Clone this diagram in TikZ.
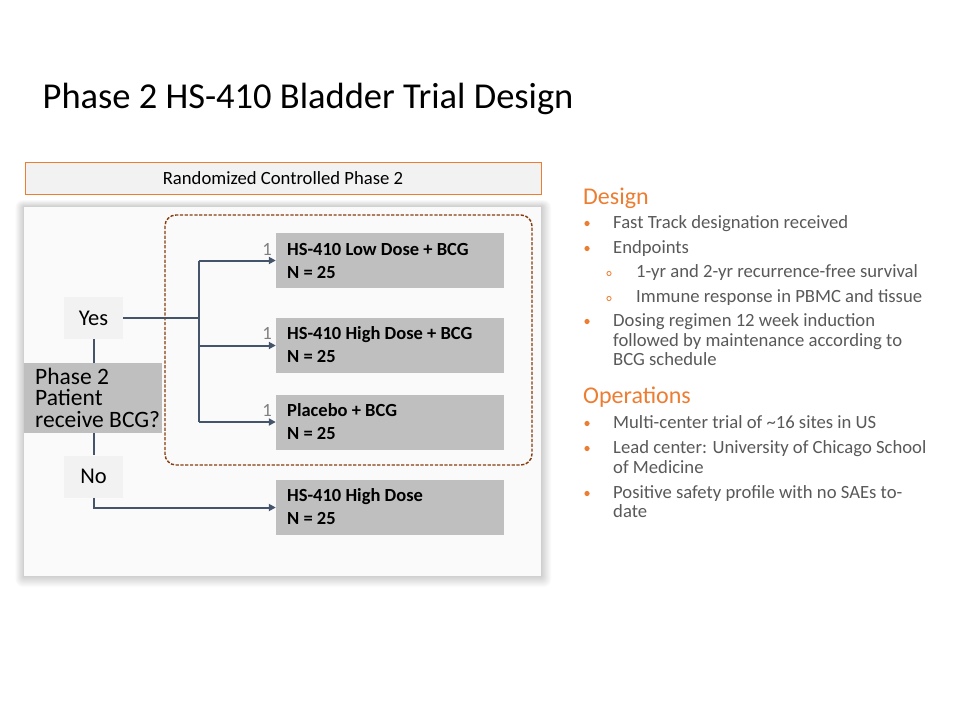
\documentclass[tikz,border=0pt]{standalone}
\usepackage{fontspec}
\setmainfont{Carlito}
\usetikzlibrary{arrows.meta}
\definecolor{accent}{HTML}{ED7D31}
\definecolor{dashbrown}{HTML}{843C0C}
\definecolor{conncol}{HTML}{44546A}
\definecolor{boxgray}{HTML}{BFBFBF}
\definecolor{lightgray}{HTML}{F2F2F2}
\definecolor{panelcol}{HTML}{FAFAFA}
\definecolor{bodytext}{HTML}{595959}
\definecolor{numgray}{HTML}{7F7F7F}
\newcommand\myfs[2]{\fontsize{#1}{#2}\selectfont}
\begin{document}
\begin{tikzpicture}[x=1pt,y=-1pt,
  gbox/.style={fill=boxgray, draw=none, minimum width=228pt, minimum height=55pt, inner sep=0pt},
  boxtext/.style={anchor=base west, inner sep=0pt, align=left, font=\myfs{18.5}{23}\bfseries, text=black},
  ynbox/.style={fill=lightgray, draw=none, minimum width=59pt, minimum height=42pt, inner sep=0pt, font=\myfs{22.5}{25}, text=black},
  onelabel/.style={anchor=base east, inner sep=0pt, font=\myfs{18.67}{22}, text=numgray},
  conn/.style={draw=conncol, line width=2pt},
  arr/.style={conn, -{Triangle[length=7pt,width=7pt]}},
  bullettext/.style={anchor=base west, inner sep=0pt, font=\myfs{18.67}{22}, text=bodytext},
  heading/.style={anchor=base west, inner sep=0pt, font=\myfs{24}{28}, text=accent},
  bdot/.style={fill=accent},
  sdot/.style={draw=accent, line width=0.8pt}
]
\useasboundingbox (0,0) rectangle (960,720);
\fill[white] (0,0) rectangle (960,720);

% title
\node[anchor=base west, inner sep=0pt, font=\myfs{36.5}{40}, text=black] (title) at (42.5,108.5) {Phase 2 HS-410 Bladder Trial Design};

% header box
\node[fill=lightgray, draw=accent, line width=0.8pt, minimum width=516pt, minimum height=32pt, inner sep=0pt, font=\myfs{18.67}{22}, text=black] (hdr) at (283,178) {Randomized Controlled Phase 2};

% panel with soft shadow
\foreach \i in {1,...,16}{
  \fill[black, opacity=0.011, rounded corners=\i*0.5pt] (24-\i*0.55,207-\i*0.45) rectangle (541+\i*0.65,576+\i*0.7);
}
\fill[panelcol] (24,207) rectangle (541,576);

% dashed group
\draw[dashbrown, line width=1.4pt, dash pattern=on 3.2pt off 1.6pt, rounded corners=11pt] (165,215) rectangle (532,465);

% arm boxes
\node[gbox] (b1) at (390,260.5) {};
\node[gbox] (b2) at (390,345.5) {};
\node[gbox] (b3) at (390,422) {};
\node[gbox] (b4) at (390,507.5) {};
\node[boxtext] (b1t) at (287,278) {HS-410 Low Dose + BCG\\N = 25};
\node[boxtext] (b2t) at (287,362) {HS-410 High Dose + BCG\\N = 25};
\node[boxtext] (b3t) at (287,439) {Placebo + BCG\\N = 25};
\node[boxtext] (b4t) at (287,524) {HS-410 High Dose\\N = 25};
\node[onelabel] (n1) at (272,255) {1};
\node[onelabel] (n2) at (272,339) {1};
\node[onelabel] (n3) at (272,416) {1};

% decision boxes
\node[ynbox] (yes) at (93.5,318) {Yes};
\node[fill=boxgray, draw=none, minimum width=138pt, minimum height=70pt, inner sep=0pt] (phase) at (93,398) {};
\node[anchor=base west, inner sep=0pt, align=left, font=\myfs{23.5}{21.5}, text=black] (phaset) at (35,427) {Phase 2\\Patient\\receive BCG?};
\node[ynbox] (no) at (93.5,476.5) {No};

% connectors
\coordinate (jy) at (199,318);
\coordinate (jt) at (199,260.5);
\coordinate (jb) at (199,422);
\draw[conn] (yes.east) -- (jy);
\draw[conn] (jt) -- (jb);
\draw[arr] (jt) -- (b1.west);
\draw[arr] (jt |- b2.west) -- (b2.west);
\draw[arr] (jb) -- (b3.west);
\draw[conn] (yes.south) -- (yes.south |- phase.north);
\draw[conn] (no.north |- phase.south) -- (no.north);
\draw[arr] (no.south) |- (b4.west);

% right column
\node[heading] (design) at (583,204) {Design};
\fill[bdot] (587,223.5) circle (2.6);
\node[bullettext] (d1) at (613,228) {Fast Track designation received};
\fill[bdot] (587,248.5) circle (2.6);
\node[bullettext] (d2) at (613,253) {Endpoints};
\draw[sdot] (609,273.5) circle (2.1);
\node[bullettext] (d3) at (636,277) {1-yr and 2-yr recurrence-free survival};
\draw[sdot] (609,298.5) circle (2.1);
\node[bullettext] (d4) at (636,302) {Immune response in PBMC and tissue};
\fill[bdot] (587,321.5) circle (2.6);
\node[bullettext] (d5) at (613,326) {Dosing regimen 12 week induction};
\node[bullettext] (d5b) at (613,346) {followed by maintenance according to};
\node[bullettext] (d5c) at (613,365.5) {BCG schedule};

\node[heading] (ops) at (583,403) {Operations};
\fill[bdot] (587,423.5) circle (2.6);
\node[bullettext] (o1) at (613,428) {Multi-center trial of \textasciitilde16 sites in US};
\fill[bdot] (587,448.5) circle (2.6);
\node[bullettext] (o2) at (613,453) {Lead center: University of Chicago School};
\node[bullettext] (o2b) at (613,473) {of Medicine};
\fill[bdot] (587,493.5) circle (2.6);
\node[bullettext] (o3) at (613,498) {Positive safety profile with no SAEs to-};
\node[bullettext] (o3b) at (613,517.5) {date};
\end{tikzpicture}
\end{document}
